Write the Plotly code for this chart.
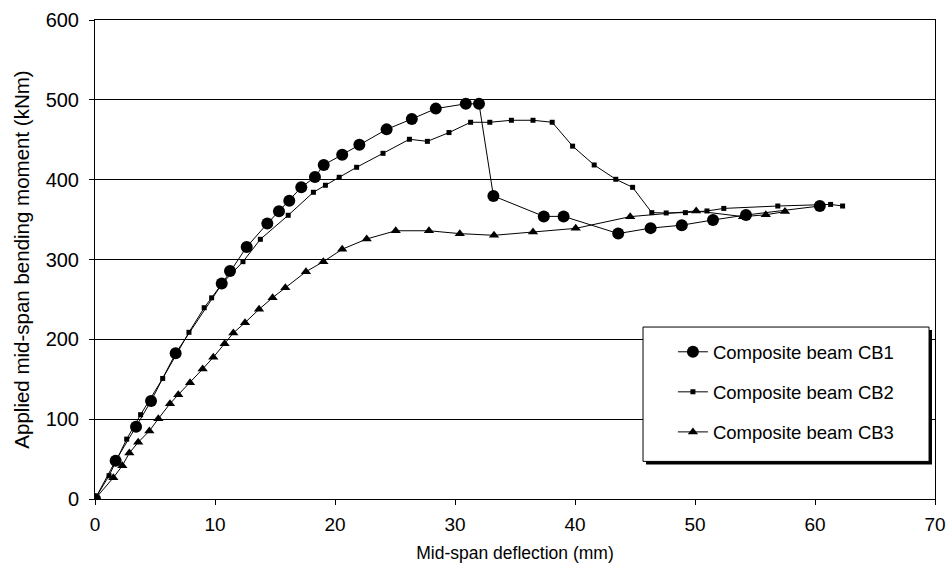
import plotly.graph_objects as go

# Mid-span deflection (mm) and applied moment (kNm) for each composite beam
cb1_x = [0, 1.72, 3.42, 4.67, 6.72, 10.56, 11.25, 12.64, 14.36, 15.33, 16.19, 17.19, 18.33,
         19.06, 20.6, 22.03, 24.3, 26.4, 28.4, 30.9, 32.0, 33.2, 37.4, 39.05, 43.6, 46.3,
         48.9, 51.5, 54.25, 60.4]
cb1_y = [0, 48, 90.6, 122.8, 182.5, 270, 285.6, 315.7, 345, 360.4, 373.7, 390.4, 403.3,
         418.4, 431.3, 443.8, 463, 476, 489, 495, 495, 379.6, 354, 354, 332.5, 339.3,
         343, 349.5, 355.7, 367]

cb2_x = [0, 1.17, 2.64, 3.8, 5.64, 7.83, 9.1, 9.72, 10.6, 12.33, 13.78, 16.1, 18.2, 19.2,
         20.35, 21.8, 24.0, 26.2, 27.7, 29.5, 31.3, 32.9, 34.7, 36.5, 38.1, 39.8, 41.6,
         43.4, 44.8, 46.4, 47.6, 49.2, 51.0, 52.4, 56.9, 61.3, 62.3]
cb2_y = [0, 29.2, 75, 105.6, 151, 208.8, 239.6, 252, 270, 297.3, 325.3, 355.4, 384.2, 393,
         403, 415.5, 433, 450.6, 448, 459, 471.9, 471.9, 474.4, 474.4, 471.9, 442, 418.4,
         400.5, 390.4, 358.7, 358.3, 358.7, 360.8, 364, 367, 369, 367]

cb3_x = [0, 1.53, 2.28, 2.86, 3.6, 4.53, 5.28, 6.25, 6.94, 7.92, 8.97, 9.86, 10.8, 11.53,
         12.5, 13.67, 14.8, 15.86, 17.58, 19.03, 20.6, 22.64, 25.06, 27.83, 30.4, 33.25,
         36.5, 40.06, 44.6, 50.1, 54.0, 55.9, 57.5]
cb3_y = [0, 26.7, 41.8, 57.6, 71, 85.2, 100.6, 119.4, 130.7, 145.7, 162.8, 177.5, 194.6,
         208, 220.9, 237.6, 252.2, 264.7, 284.7, 297.3, 312.8, 325.7, 336, 336, 332.4,
         330.3, 334.5, 339, 353.7, 360.8, 353.7, 356, 360]

series_names = ["Composite beam CB1", "Composite beam CB2", "Composite beam CB3"]

x_ticks = [0, 10, 20, 30, 40, 50, 60, 70]
y_ticks = [0, 100, 200, 300, 400, 500, 600]

FONT = "Liberation Sans, Arial, sans-serif"

fig = go.Figure()
styles = [
    dict(symbol="circle", size=12),
    dict(symbol="square", size=5),
    dict(symbol="triangle-up", size=9),
]
for i, (xs, ys, name) in enumerate(zip([cb1_x, cb2_x, cb3_x], [cb1_y, cb2_y, cb3_y], series_names)):
    fig.add_trace(go.Scatter(
        x=xs, y=ys, name=name, mode="lines+markers",
        line=dict(color="black", width=1),
        marker=dict(color="black", line=dict(width=0), **styles[i]),
        legendgroup=f"g{i}",
    ))

# Legend frame with a drop shadow
fig.add_shape(type="rect", xref="paper", yref="paper",
              x0=0.656, x1=0.9964, y0=0.072, y1=0.353,
              fillcolor="black", line=dict(width=0), layer="above")
fig.add_shape(type="rect", xref="paper", yref="paper",
              x0=0.6524, x1=0.9929, y0=0.0785, y1=0.359,
              fillcolor="white", line=dict(color="black", width=1), layer="above")

fig.update_layout(
    width=950, height=571,
    margin=dict(l=95, r=15, t=20, b=72, autoexpand=False),
    paper_bgcolor="white", plot_bgcolor="white",
    font=dict(family=FONT, size=16, color="black"),
    showlegend=True,
    legend=dict(
        x=0.688, y=0.346, xanchor="left", yanchor="top",
        bgcolor="rgba(0,0,0,0)", borderwidth=0,
        font=dict(size=18.5, family=FONT),
        tracegroupgap=13,
    ),
    xaxis=dict(
        range=[0, 70], tickvals=x_ticks, showgrid=False, zeroline=False,
        showline=True, linecolor="black", linewidth=1, mirror=True,
        ticks="outside", ticklen=5, tickcolor="black", automargin=False,
        title=dict(text="Mid-span deflection (mm)", font=dict(size=17.5), standoff=12),
        tickfont=dict(size=19), ticklabelstandoff=3,
    ),
    yaxis=dict(
        range=[0, 600], tickvals=y_ticks, showgrid=True, gridcolor="black", gridwidth=1,
        zeroline=False, showline=True, linecolor="black", linewidth=1, mirror=True,
        ticks="outside", ticklen=5, tickcolor="black", automargin=False,
        title=dict(text="Applied mid-span bending moment (kNm)", font=dict(size=20.5), standoff=10),
        tickfont=dict(size=20), ticklabelstandoff=6,
    ),
)

fig.write_html("out.html")
